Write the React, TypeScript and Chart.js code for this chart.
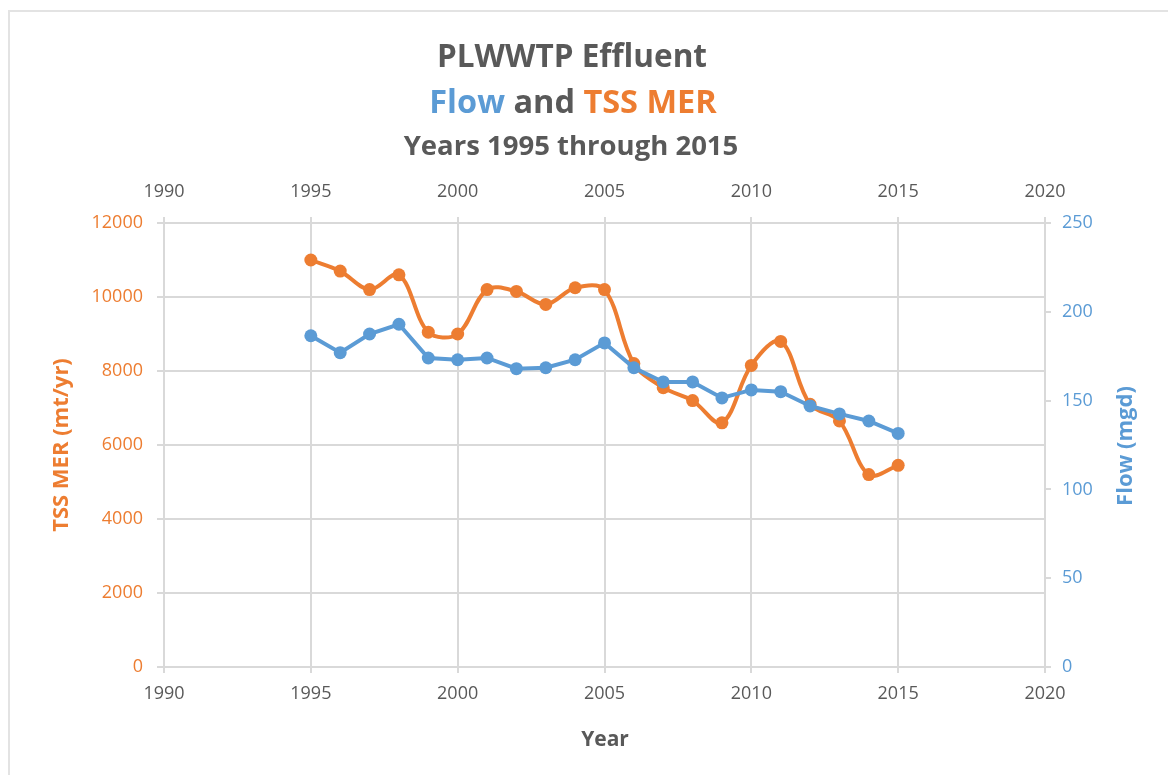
import React, { useEffect, useRef } from "react";
import { Chart, registerables } from "chart.js";

Chart.register(...registerables);

const years = [1995, 1996, 1997, 1998, 1999, 2000, 2001, 2002, 2003, 2004, 2005, 2006, 2007, 2008, 2009, 2010, 2011, 2012, 2013, 2014, 2015];
const tssMer = [11000, 10700, 10200, 10600, 9050, 9000, 10200, 10150, 9800, 10250, 10200, 8200, 7550, 7200, 6600, 8150, 8800, 7100, 6650, 5200, 5450];
const flowMgd = [186.5, 177, 187.5, 193, 174, 173, 174, 168, 168.5, 173, 182.5, 168.5, 160.5, 160.5, 151.5, 156, 155, 147, 142.5, 138.5, 131.5];

const titleLine1 = "PLWWTP Effluent";
const titleLine2 = [
  { text: "Flow", color: "#5B9BD5" },
  { text: " and ", color: "#595959" },
  { text: "TSS MER", color: "#ED7D31" },
];
const titleLine3 = "Years 1995 through 2015";
const leftAxisTitle = "TSS MER (mt/yr)";
const rightAxisTitle = "Flow (mgd)";
const xAxisTitle = "Year";

const ORANGE = "#ED7D31";
const BLUE = "#5B9BD5";
const GRAY = "#595959";
const GRID = "#d9d9d9";
const FONT = "'Open Sans', sans-serif";

// page -> canvas offset
const OX = 10;
const OY = 12;

const textPlugin = {
  id: "customText",
  afterDraw(chart: any) {
    const ctx = chart.ctx as CanvasRenderingContext2D;
    ctx.save();
    ctx.textAlign = "center";
    ctx.textBaseline = "middle";
    ctx.fillStyle = GRAY;
    ctx.font = `bold 31.5px ${FONT}`;
    ctx.fillText(titleLine1, 572 - OX, 58 - OY);

    ctx.font = `bold 32.5px ${FONT}`;
    const widths = titleLine2.map((p) => ctx.measureText(p.text).width);
    const total = widths.reduce((a, b) => a + b, 0);
    let x = 573 - OX - total / 2;
    ctx.textAlign = "left";
    titleLine2.forEach((p, i) => {
      ctx.fillStyle = p.color;
      ctx.fillText(p.text, x, 104 - OY);
      x += widths[i];
    });

    ctx.textAlign = "center";
    ctx.fillStyle = GRAY;
    ctx.font = `bold 27.5px ${FONT}`;
    ctx.fillText(titleLine3, 571 - OX, 147 - OY);

    ctx.font = `bold 21px ${FONT}`;
    ctx.fillText(xAxisTitle, 605 - OX, 740 - OY);

    ctx.font = `bold 22px ${FONT}`;
    ctx.save();
    ctx.translate(62 - OX, 445 - OY);
    ctx.rotate(-Math.PI / 2);
    ctx.fillStyle = ORANGE;
    ctx.fillText(leftAxisTitle, 0, 0);
    ctx.restore();

    ctx.save();
    ctx.translate(1126 - OX, 446 - OY);
    ctx.rotate(-Math.PI / 2);
    ctx.fillStyle = BLUE;
    ctx.fillText(rightAxisTitle, 0, 0);
    ctx.restore();

    ctx.restore();
  },
};

export default function App() {
  const ref = useRef<HTMLCanvasElement | null>(null);

  useEffect(() => {
    if (!ref.current) return;
    const chart = new Chart(ref.current, {
      type: "line",
      data: {
        datasets: [
          {
            label: "Flow",
            data: years.map((y, i) => ({ x: y, y: flowMgd[i] })),
            xAxisID: "x",
            yAxisID: "y1",
            borderColor: BLUE,
            backgroundColor: BLUE,
            borderWidth: 4,
            pointRadius: 6.5,
            pointBorderWidth: 0,
            tension: 0,
            order: 0,
          },
          {
            label: "TSS MER",
            data: years.map((y, i) => ({ x: y, y: tssMer[i] })),
            xAxisID: "x",
            yAxisID: "y",
            borderColor: ORANGE,
            backgroundColor: ORANGE,
            borderWidth: 4,
            pointRadius: 6.5,
            pointBorderWidth: 0,
            tension: 0.35,
            order: 1,
          },
        ],
      },
      options: {
        animation: false,
        responsive: true,
        maintainAspectRatio: false,
        layout: { padding: 0 },
        plugins: {
          legend: { display: false },
          tooltip: { enabled: false },
          title: { display: false },
        },
        scales: {
          x: {
            type: "linear",
            position: "bottom",
            min: 1990,
            max: 2020,
            ticks: {
              stepSize: 5,
              color: GRAY,
              font: { family: FONT, size: 18 },
              padding: 10,
              maxRotation: 0,
              callback: (v: any) => String(v),
            },
            grid: { color: GRID, lineWidth: 2, tickLength: 6, drawTicks: true },
            border: { display: false },
            afterFit: (s: any) => {
              s.height = 108;
            },
          },
          x2: {
            type: "linear",
            position: "top",
            min: 1990,
            max: 2020,
            ticks: {
              stepSize: 5,
              color: GRAY,
              font: { family: FONT, size: 18 },
              padding: 14,
              maxRotation: 0,
              callback: (v: any) => String(v),
            },
            grid: { color: GRID, lineWidth: 2, tickLength: 6, drawOnChartArea: false },
            border: { display: false },
            afterFit: (s: any) => {
              s.height = 211;
            },
          },
          y: {
            type: "linear",
            position: "left",
            min: 0,
            max: 12000,
            ticks: {
              stepSize: 2000,
              color: ORANGE,
              font: { family: FONT, size: 18 },
              padding: 14,
              callback: (v: any) => String(v),
            },
            grid: { color: GRID, lineWidth: 2, tickLength: 7 },
            border: { display: false },
            afterFit: (s: any) => {
              s.width = 154;
            },
          },
          y1: {
            type: "linear",
            position: "right",
            min: 0,
            max: 250,
            ticks: {
              stepSize: 50,
              color: BLUE,
              font: { family: FONT, size: 18 },
              padding: 11,
              callback: (v: any) => String(v),
            },
            grid: { color: GRID, lineWidth: 2, tickLength: 6, drawOnChartArea: false },
            border: { display: false },
            afterFit: (s: any) => {
              s.width = 129;
            },
          },
        },
      },
      plugins: [textPlugin],
    } as any);
    return () => chart.destroy();
  }, []);

  return (
    <div
      style={{
        position: "relative",
        marginTop: 2,
        width: 1164,
        height: 763,
        borderTop: "2px solid #e3e3e3",
        borderLeft: "2px solid #e3e3e3",
        borderRight: "2px solid #e3e3e3",
        background: "#ffffff",
      }}
    >
      <canvas ref={ref} />
    </div>
  );
}
